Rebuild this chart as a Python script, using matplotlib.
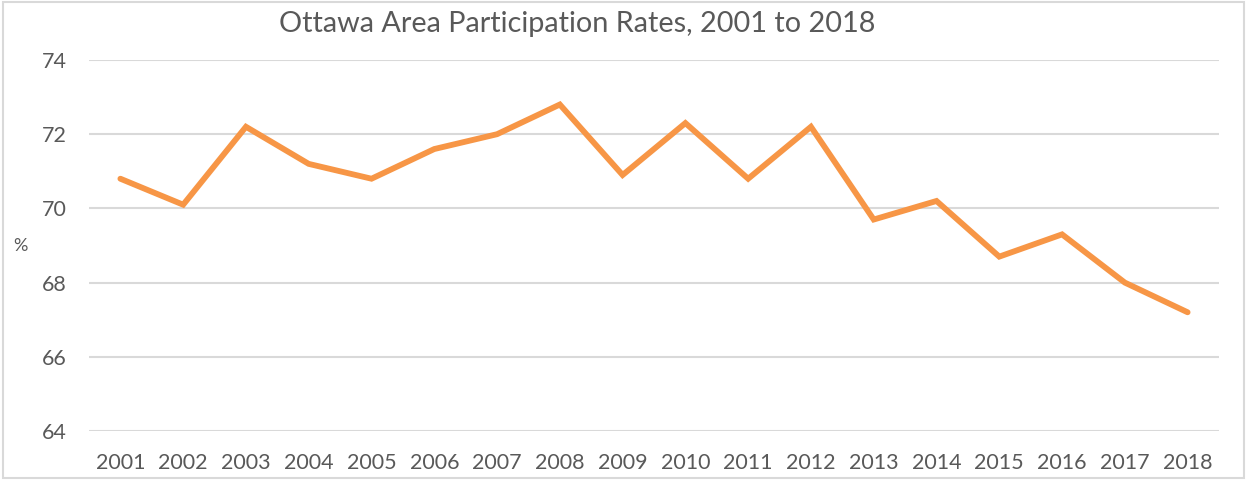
# Ottawa area participation rates, 2001 to 2018 - line chart
import matplotlib
matplotlib.use('Agg')
import matplotlib.pyplot as plt
from matplotlib.patches import Rectangle

# data
years = ['2001', '2002', '2003', '2004', '2005', '2006', '2007', '2008', '2009',
         '2010', '2011', '2012', '2013', '2014', '2015', '2016', '2017', '2018']
rates = [70.8, 70.1, 72.2, 71.2, 70.8, 71.6, 72.0, 72.8, 70.9,
         72.3, 70.8, 72.2, 69.7, 70.2, 68.7, 69.3, 68.0, 67.2]
yticks = [64, 66, 68, 70, 72, 74]

text_col = '#595959'
grid_col = '#d9d9d9'
line_col = '#f79646'

plt.rcParams['font.family'] = ['Lato', 'DejaVu Sans']

W, H = 1248, 480
fig = plt.figure(figsize=(W / 100, H / 100), dpi=100)

# plot area in pixel terms: x 89..1219, y 60 (74) .. 431 (64)
left, right, top, bottom = 89, 1219, 60, 431
ax = fig.add_axes([left / W, 1 - bottom / H, (right - left) / W, (bottom - top) / H])

x = list(range(len(years)))
ax.plot(x, rates, color=line_col, lw=4.2, solid_joinstyle='miter', solid_capstyle='round', zorder=3)

ax.set_xlim(-0.5, len(years) - 0.5)
ax.set_ylim(64, 74)
ax.set_yticks(yticks)
ax.set_yticklabels([str(t) for t in yticks])
ax.set_xticks(x)
ax.set_xticklabels(years)
ax.tick_params(axis='both', length=0, colors=text_col, labelsize=15.5)
ax.tick_params(axis='x', pad=16)
ax.tick_params(axis='y', pad=16)
ax.grid(axis='y', color=grid_col, lw=1.5, zorder=0)
for s in ax.spines.values():
    s.set_visible(False)

fig.text(20 / W, 1 - 246 / H, '%', color=text_col, fontsize=13, ha='center', va='center')
fig.text(577 / W, 1 - 24 / H, 'Ottawa Area Participation Rates, 2001 to 2018',
         color=text_col, fontsize=20.8, ha='center', va='center')

# outer chart border
fig.patches.append(Rectangle((3 / W, 2 / H), (W - 7) / W, (H - 4) / H, transform=fig.transFigure,
                             fill=False, edgecolor=grid_col, lw=1.5))

fig.savefig('out.png', dpi=100)
